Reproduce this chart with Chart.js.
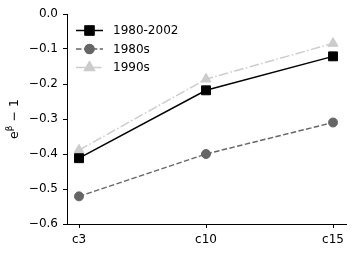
<!DOCTYPE html>
<html>
<head>
<meta charset="utf-8">
<script src="https://cdn.jsdelivr.net/npm/chart.js@4"></script>
<style>
  html, body { margin: 0; padding: 0; background: #fff; }
  #wrap { width: 359px; height: 254px; }
</style>
</head>
<body>
<div id="wrap"><canvas id="myChart" width="359" height="254"></canvas></div>
<script>
// categories along x
const categories = ["c3", "c10", "c15"];
// series values (e^beta - 1)
const full = [-0.412, -0.218, -0.121];
const eighties = [-0.521, -0.400, -0.310];
const nineties = [-0.389, -0.186, -0.084];
const seriesNames = ["1980-2002", "1980s", "1990s"];
const yTicks = [0, -0.1, -0.2, -0.3, -0.4, -0.5, -0.6];

const FONT = "'DejaVu Sans', sans-serif";

function toXY(vals) {
    return vals.map((v, i) => ({ x: i, y: v }));
}

// legend drawn with line + marker, matplotlib style
const legendPlugin = {
    id: 'mplLegend',
    afterDraw(chart) {
        const ctx = chart.ctx;
        const area = chart.chartArea;
        ctx.save();
        chart.data.datasets.forEach((ds, i) => {
            const y = area.top + 16.5 + i * 18.5;
            const x0 = area.left + 9, x1 = area.left + 36;
            ctx.strokeStyle = ds.borderColor;
            ctx.lineWidth = ds.borderWidth;
            ctx.setLineDash(ds.borderDash || []);
            ctx.beginPath();
            ctx.moveTo(x0, y);
            ctx.lineTo(x1, y);
            ctx.stroke();
            ctx.setLineDash([]);
            Chart.helpers.drawPoint(ctx, {
                pointStyle: ds.pointStyle,
                radius: ds.pointRadius,
                borderWidth: 1
            }, (x0 + x1) / 2, y);
            ctx.fillStyle = ds.pointBackgroundColor;
            ctx.strokeStyle = ds.pointBorderColor;
            ctx.lineWidth = 1;
            ctx.fill();
            ctx.stroke();
            ctx.fillStyle = '#000';
            ctx.font = '12px ' + FONT;
            ctx.textBaseline = 'middle';
            ctx.textAlign = 'left';
            ctx.fillText(ds.label, area.left + 46, y + 0.5);
        });
        // y axis title: e^beta - 1
        const cy = (area.top + area.bottom) / 2;
        ctx.translate(15, cy);
        ctx.rotate(-Math.PI / 2);
        ctx.fillStyle = '#000';
        ctx.textBaseline = 'middle';
        ctx.textAlign = 'left';
        ctx.font = '12.5px ' + FONT;
        const wE = ctx.measureText('e').width;
        const wRest = ctx.measureText(' \u2212 1').width;
        ctx.font = '9px ' + FONT;
        const wB = ctx.measureText('\u03B2').width;
        let x = -(wE + wB + wRest) / 2;
        ctx.font = '12.5px ' + FONT;
        ctx.fillText('e', x, 0);
        x += wE;
        ctx.font = '9px ' + FONT;
        ctx.fillText('\u03B2', x, -5);
        x += wB;
        ctx.font = '12.5px ' + FONT;
        ctx.fillText(' \u2212 1', x, 0);
        ctx.restore();
    }
};

const ctx = document.getElementById('myChart').getContext('2d');
const chart = new Chart(ctx, {
    type: 'line',
    data: {
        datasets: [{
            label: seriesNames[0],
            data: toXY(full),
            borderColor: '#000000',
            borderWidth: 1.5,
            pointStyle: 'rect',
            pointRadius: 6.3,
            pointBackgroundColor: '#000000',
            pointBorderColor: '#000000',
            pointBorderWidth: 1
        }, {
            label: seriesNames[1],
            data: toXY(eighties),
            borderColor: '#666666',
            borderWidth: 1.5,
            borderDash: [5.5, 2.4],
            pointStyle: 'circle',
            pointRadius: 4.5,
            pointBackgroundColor: '#666666',
            pointBorderColor: '#666666',
            pointBorderWidth: 1
        }, {
            label: seriesNames[2],
            data: toXY(nineties),
            borderColor: '#cccccc',
            borderWidth: 1.5,
            borderDash: [9.6, 2.4, 1.5, 2.4],
            pointStyle: 'triangle',
            pointRadius: 5.8,
            pointBackgroundColor: '#cccccc',
            pointBorderColor: '#cccccc',
            pointBorderWidth: 1
        }]
    },
    options: {
        responsive: false,
        animation: false,
        layout: { padding: { left: 0, right: 13, top: 14, bottom: 0 } },
        plugins: {
            legend: { display: false },
            tooltip: { enabled: false }
        },
        scales: {
            x: {
                type: 'linear',
                min: -0.0945,
                max: 2.102,
                afterBuildTicks: (scale) => {
                    scale.ticks = categories.map((c, i) => ({ value: i }));
                },
                afterFit: (scale) => { scale.height = 30; },
                ticks: {
                    callback: (v) => categories[v],
                    font: { family: FONT, size: 12 },
                    color: '#000',
                    padding: 5,
                    maxRotation: 0
                },
                grid: {
                    drawOnChartArea: false,
                    drawTicks: true,
                    tickLength: 4,
                    tickColor: '#000'
                },
                border: { color: '#000', width: 1 }
            },
            y: {
                min: -0.6,
                max: 0,
                afterBuildTicks: (scale) => {
                    scale.ticks = yTicks.map(v => ({ value: v }));
                },
                afterFit: (scale) => { scale.width = 67; },
                ticks: {
                    callback: (v) => (v < 0 ? '\u2212' : '') + Math.abs(v).toFixed(1),
                    font: { family: FONT, size: 12 },
                    color: '#000',
                    padding: 5
                },
                grid: {
                    drawOnChartArea: false,
                    drawTicks: true,
                    tickLength: 4,
                    tickColor: '#000'
                },
                border: { color: '#000', width: 1 }
            }
        }
    },
    plugins: [legendPlugin]
});
</script>
</body>
</html>
